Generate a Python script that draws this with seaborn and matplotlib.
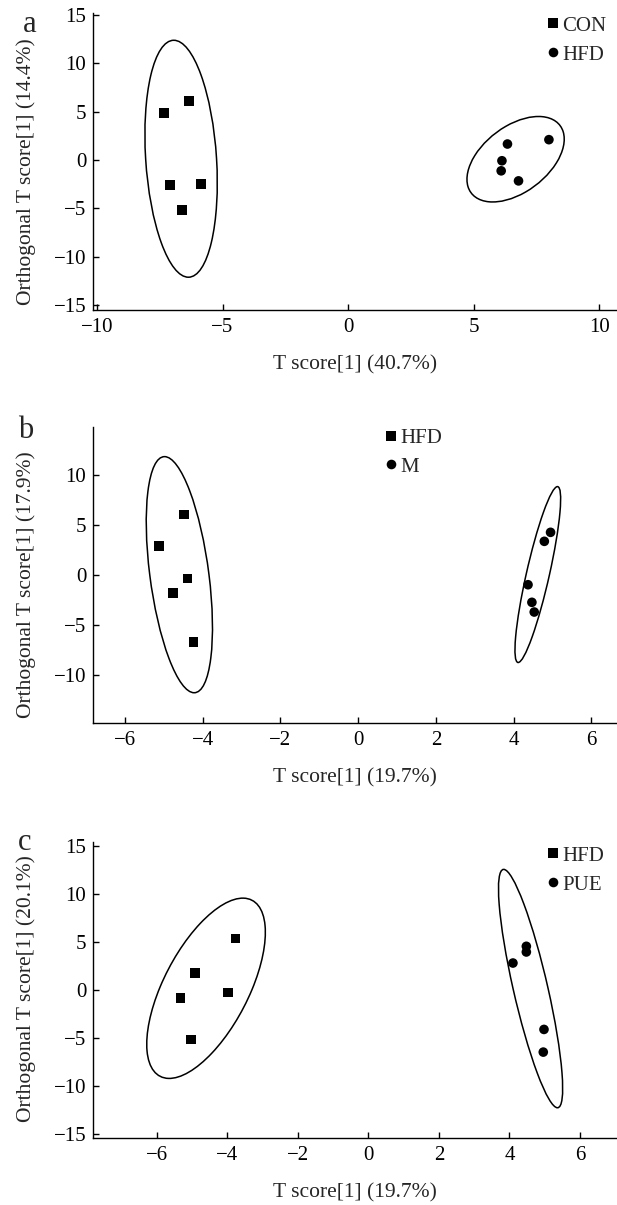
import numpy as np
import pandas as pd
import matplotlib
matplotlib.use("Agg")
import matplotlib.pyplot as plt
from matplotlib.patches import Ellipse
import seaborn as sns

# panel a: CON vs HFD
a_groups = ["CON", "HFD"]
a_x = [[-7.33, -6.34, -7.10, -5.86, -6.62], [6.34, 7.99, 6.12, 6.09, 6.78]]
a_y = [[4.84, 6.09, -2.56, -2.49, -5.19], [1.66, 2.11, -0.07, -1.11, -2.15]]
a_xlabel = "T score[1] (40.7%)"
a_ylabel = "Orthogonal T score[1] (14.4%)"

# panel b: HFD vs M
b_groups = ["HFD", "M"]
b_x = [[-4.49, -5.12, -4.39, -4.77, -4.24], [4.95, 4.79, 4.37, 4.47, 4.53]]
b_y = [[6.07, 2.90, -0.33, -1.80, -6.67], [4.27, 3.37, -0.97, -2.73, -3.70]]
b_xlabel = "T score[1] (19.7%)"
b_ylabel = "Orthogonal T score[1] (17.9%)"

# panel c: HFD vs PUE
c_groups = ["HFD", "PUE"]
c_x = [[-3.76, -4.92, -3.98, -5.32, -5.02], [4.48, 4.48, 4.10, 4.98, 4.96]]
c_y = [[5.35, 1.77, -0.24, -0.83, -5.14], [4.55, 3.96, 2.81, -4.10, -6.46]]
c_xlabel = "T score[1] (19.7%)"
c_ylabel = "Orthogonal T score[1] (20.1%)"

sns.set_theme(style="ticks")
plt.rcParams["font.family"] = ["Liberation Serif", "DejaVu Serif"]
plt.rcParams["xtick.direction"] = "in"
plt.rcParams["ytick.direction"] = "in"
plt.rcParams["xtick.major.size"] = 4.5
plt.rcParams["ytick.major.size"] = 4.5
plt.rcParams["axes.linewidth"] = 1.0
plt.rcParams["xtick.color"] = "black"
plt.rcParams["ytick.color"] = "black"
plt.rcParams["axes.edgecolor"] = "black"

FS = 15


def conf_ellipse(ax, x, y):
    # 95% ellipse from the group's sample covariance
    x = np.asarray(x)
    y = np.asarray(y)
    cov = np.cov(x, y)
    vals, vecs = np.linalg.eigh(cov)
    order = vals.argsort()[::-1]
    vals, vecs = vals[order], vecs[:, order]
    ang = np.degrees(np.arctan2(vecs[1, 0], vecs[0, 0]))
    k = np.sqrt(5.991)
    w, h = 2 * k * np.sqrt(vals)
    ax.add_patch(Ellipse((x.mean(), y.mean()), w, h, angle=ang,
                         fill=False, edgecolor="black", lw=1.1))


def panel(ax, groups, xs, ys, xlabel, ylabel, xlim, ylim, xticks, yticks,
          leg_anchor, ylab_y):
    rows = []
    for g, gx, gy in zip(groups, xs, ys):
        for xi, yi in zip(gx, gy):
            rows.append({"x": xi, "y": yi, "group": g})
    df = pd.DataFrame(rows)
    sns.scatterplot(data=df, x="x", y="y", hue="group", style="group",
                    markers={groups[0]: "s", groups[1]: "o"},
                    palette={groups[0]: "black", groups[1]: "black"},
                    s=48, edgecolor="black", linewidth=0, ax=ax, zorder=3)
    for gx, gy in zip(xs, ys):
        conf_ellipse(ax, gx, gy)
    ax.set_xlim(*xlim)
    ax.set_ylim(*ylim)
    ax.set_xticks(xticks)
    ax.set_yticks(yticks)
    ax.tick_params(axis="y", labelsize=FS, width=1.0, pad=5)
    ax.tick_params(axis="x", labelsize=FS, width=1.0, pad=6)
    ax.set_xlabel(xlabel, fontsize=15.5, labelpad=13)
    ax.set_ylabel(ylabel, fontsize=15.5, va="center")
    ax.yaxis.set_label_coords(-0.128, ylab_y)
    sns.despine(ax=ax)
    sns.move_legend(ax, "upper left", bbox_to_anchor=leg_anchor, frameon=False,
                    title=None, fontsize=FS, handlelength=0.6, handletextpad=0.15,
                    labelspacing=0.45, borderaxespad=0, borderpad=0,
                    markerscale=1.0)


fig = plt.figure(figsize=(6.17, 12.05), dpi=100)
ax_a = fig.add_axes([0.151, 0.7427, 0.849, 0.2465])
ax_b = fig.add_axes([0.151, 0.4000, 0.849, 0.2456])
ax_c = fig.add_axes([0.151, 0.0556, 0.849, 0.2456])

panel(ax_a, a_groups, a_x, a_y, a_xlabel, a_ylabel, (-10.15, 10.7), (-15.5, 15.2),
      [-10, -5, 0, 5, 10], [-15, -10, -5, 0, 5, 10, 15], (0.866, 0.99), 0.465)
panel(ax_b, b_groups, b_x, b_y, b_xlabel, b_ylabel, (-6.82, 6.66), (-14.8, 14.8),
      [-6, -4, -2, 0, 2, 4, 6], [-10, -5, 0, 5, 10], (0.557, 0.996), 0.468)
panel(ax_c, c_groups, c_x, c_y, c_xlabel, c_ylabel, (-7.8, 7.05), (-15.4, 15.4),
      [-6, -4, -2, 0, 2, 4, 6], [-15, -10, -5, 0, 5, 10, 15], (0.866, 0.986), 0.505)

fig.text(0.037, 0.9734, "a", fontsize=22, va="baseline")
fig.text(0.029, 0.6365, "b", fontsize=22, va="baseline")
fig.text(0.029, 0.2946, "c", fontsize=22, va="baseline")

fig.savefig("out.png", dpi=100)
